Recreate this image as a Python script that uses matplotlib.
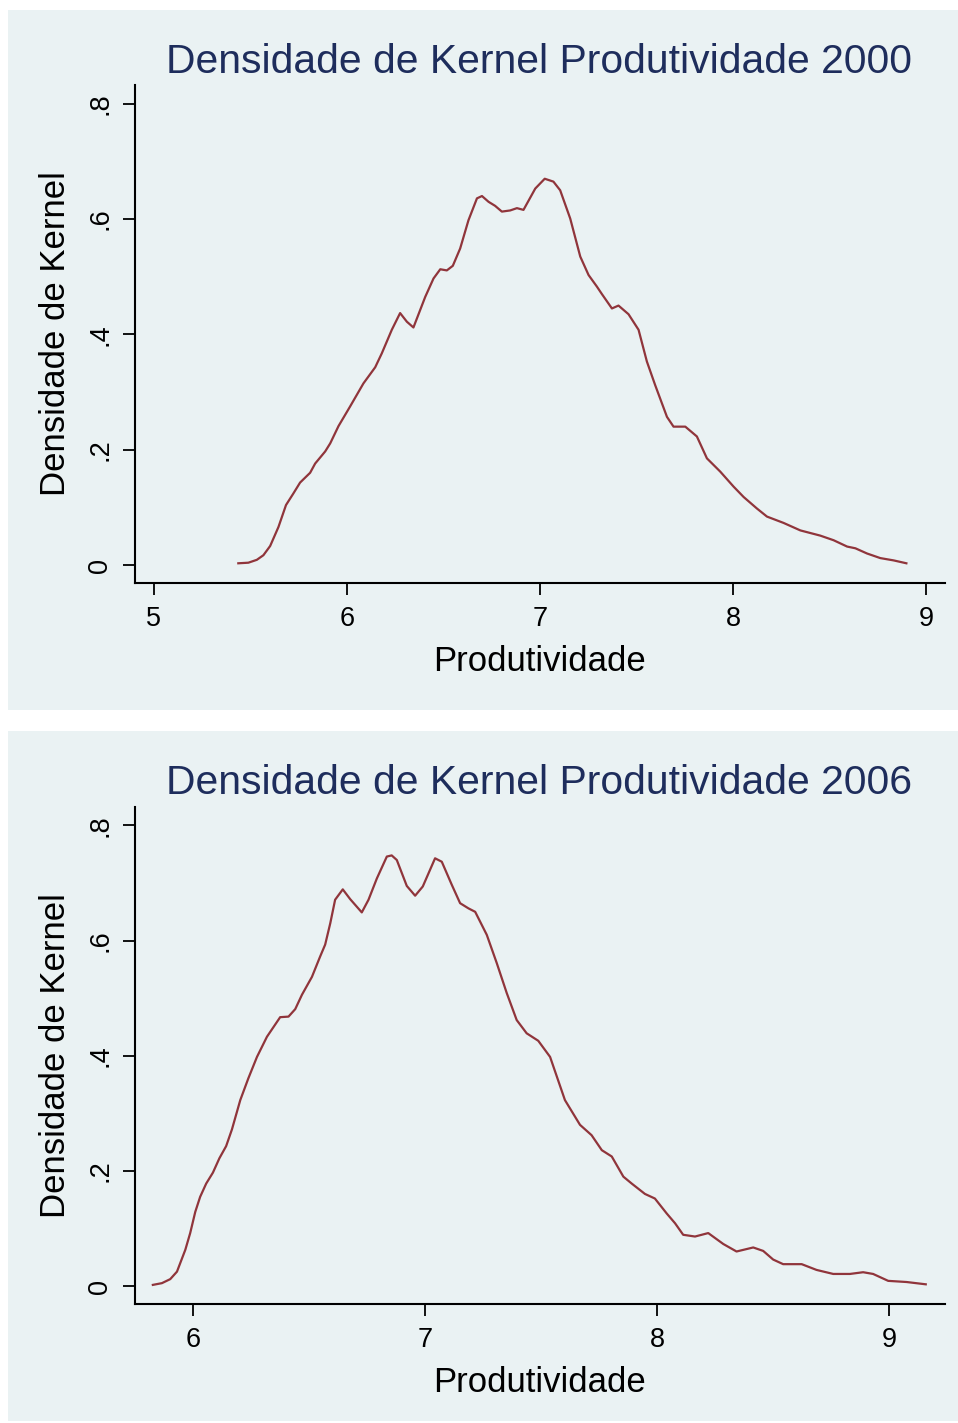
import matplotlib
matplotlib.use("Agg")
import matplotlib.pyplot as plt
from matplotlib.patches import Rectangle

# ---------------- data ----------------
x2000 = [5.438, 5.49, 5.534, 5.568, 5.603, 5.646, 5.685, 5.723, 5.758, 5.81,
         5.836, 5.888, 5.914, 5.957, 6.017, 6.086, 6.147, 6.181, 6.233, 6.276,
         6.311, 6.345, 6.406, 6.449, 6.484, 6.518, 6.549, 6.587, 6.63, 6.674,
         6.7, 6.734, 6.768, 6.803, 6.846, 6.881, 6.915, 6.976, 7.025, 7.07,
         7.105, 7.157, 7.209, 7.252, 7.295, 7.321, 7.373, 7.407, 7.459, 7.511,
         7.554, 7.597, 7.658, 7.692, 7.753, 7.813, 7.865, 7.934, 8.003, 8.055,
         8.124, 8.176, 8.262, 8.349, 8.452, 8.521, 8.591, 8.634, 8.694, 8.763,
         8.832, 8.898]
y2000 = [0.003, 0.004, 0.009, 0.017, 0.033, 0.066, 0.104, 0.124, 0.143, 0.16,
         0.176, 0.197, 0.211, 0.241, 0.275, 0.315, 0.343, 0.367, 0.408, 0.437,
         0.422, 0.412, 0.465, 0.497, 0.513, 0.511, 0.519, 0.549, 0.598, 0.636,
         0.64, 0.63, 0.623, 0.613, 0.615, 0.619, 0.616, 0.653, 0.67, 0.665,
         0.65, 0.601, 0.535, 0.503, 0.483, 0.47, 0.445, 0.45, 0.435, 0.408,
         0.353, 0.312, 0.257, 0.24, 0.24, 0.223, 0.185, 0.162, 0.136, 0.118,
         0.098, 0.084, 0.073, 0.06, 0.051, 0.043, 0.032, 0.029, 0.02, 0.012,
         0.008, 0.003]

x2006 = [5.826, 5.865, 5.901, 5.93, 5.966, 5.987, 6.009, 6.03, 6.056, 6.085,
         6.113, 6.142, 6.167, 6.203, 6.238, 6.275, 6.318, 6.375, 6.411, 6.44,
         6.469, 6.512, 6.547, 6.569, 6.591, 6.612, 6.645, 6.677, 6.727, 6.756,
         6.792, 6.835, 6.856, 6.878, 6.921, 6.957, 6.99, 7.043, 7.072, 7.115,
         7.151, 7.187, 7.216, 7.266, 7.309, 7.352, 7.395, 7.438, 7.488, 7.539,
         7.568, 7.603, 7.668, 7.718, 7.762, 7.805, 7.855, 7.891, 7.948, 7.991,
         8.042, 8.078, 8.113, 8.164, 8.221, 8.286, 8.343, 8.415, 8.458, 8.501,
         8.544, 8.624, 8.688, 8.76, 8.832, 8.889, 8.932, 8.997, 9.076, 9.159]
y2006 = [0.002, 0.005, 0.012, 0.025, 0.063, 0.092, 0.129, 0.155, 0.178, 0.197,
         0.222, 0.243, 0.272, 0.323, 0.361, 0.398, 0.433, 0.467, 0.468, 0.481,
         0.506, 0.537, 0.572, 0.593, 0.63, 0.671, 0.689, 0.672, 0.649, 0.671,
         0.708, 0.746, 0.748, 0.74, 0.695, 0.678, 0.694, 0.743, 0.737, 0.697,
         0.665, 0.656, 0.65, 0.61, 0.561, 0.509, 0.462, 0.439, 0.426, 0.398,
         0.364, 0.323, 0.28, 0.262, 0.236, 0.225, 0.19, 0.178, 0.16, 0.152,
         0.126, 0.109, 0.089, 0.086, 0.092, 0.073, 0.06, 0.067, 0.061, 0.046,
         0.038, 0.038, 0.028, 0.021, 0.021, 0.024, 0.021, 0.009, 0.007, 0.003]

titles = ["Densidade de Kernel Produtividade 2000",
          "Densidade de Kernel Produtividade 2006"]
xlabel = "Produtividade"
ylabel = "Densidade de Kernel"
xticks_2000 = [5, 6, 7, 8, 9]
xticks_2006 = [6, 7, 8, 9]
yticks = [0, 0.2, 0.4, 0.6, 0.8]
ytick_labels = ["0", ".2", ".4", ".6", ".8"]

# ---------------- style ----------------
plt.rcParams['font.family'] = ['Liberation Sans', 'DejaVu Sans']
BG = '#EAF2F3'
LINE = '#90353B'
TITLE_C = '#1E2D5C'

W, H = 958, 1423
fig = plt.figure(figsize=(W / 100, H / 100), dpi=100, facecolor='white')


def fx(px):
    return px / W


def fy(py):
    return 1 - py / H


# panel backgrounds
for (top, bot) in [(10, 710), (731, 1421)]:
    fig.patches.append(Rectangle((fx(8), fy(bot)), fx(950), (bot - top) / H,
                                 transform=fig.transFigure, facecolor=BG,
                                 edgecolor='none', zorder=-5))

panels = [
    dict(x=x2000, y=y2000, xt=xticks_2000, xlim=(4.903, 9.098),
         top=85, bottom=583, title_base=72.7, title=titles[0]),
    dict(x=x2006, y=y2006, xt=xticks_2006, xlim=(5.749, 9.242),
         top=806.7, bottom=1304, title_base=793.7, title=titles[1]),
]

left_px, right_px = 135, 945
for p in panels:
    ax = fig.add_axes([fx(left_px), fy(p['bottom']), fx(right_px - left_px),
                       (p['bottom'] - p['top']) / H])
    ax.set_facecolor('none')
    ax.plot(p['x'], p['y'], color=LINE, lw=1.6, solid_joinstyle='round')
    ax.set_xlim(*p['xlim'])
    ax.set_ylim(-0.0312, 0.8326)
    ax.set_xticks(p['xt'])
    ax.set_xticklabels([str(v) for v in p['xt']])
    ax.set_yticks(yticks)
    ax.set_yticklabels(ytick_labels, rotation=90, va='center')
    for s in ['top', 'right']:
        ax.spines[s].set_visible(False)
    for s in ['left', 'bottom']:
        ax.spines[s].set_linewidth(1.5)
        ax.spines[s].set_color('black')
    ax.tick_params(axis='both', length=8.5, width=1.3, labelsize=19.5,
                   colors='black')
    ax.tick_params(axis='x', pad=8)
    ax.tick_params(axis='y', pad=7)
    h_px = p['bottom'] - p['top']
    ax.set_xlabel(xlabel, fontsize=25, va='baseline')
    ax.xaxis.set_label_coords(0.5, -(671 - 583) / h_px)
    ax.set_ylabel(ylabel, fontsize=25, va='baseline')
    ax.yaxis.set_label_coords((65 - left_px) / (right_px - left_px), 0.5)
    fig.text(fx(539.5), fy(p['title_base']), p['title'], fontsize=29.4,
             color=TITLE_C, ha='center', va='baseline')

fig.savefig('out.png', dpi=100, facecolor='white')
